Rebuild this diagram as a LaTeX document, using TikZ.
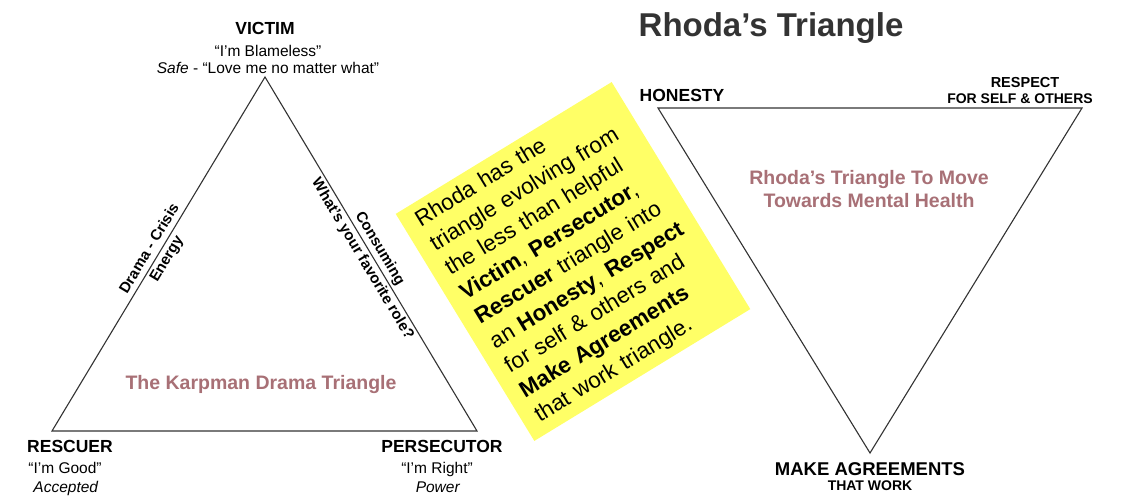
\documentclass[tikz,border=0pt]{standalone}
\usepackage{fontspec}
\setmainfont{Liberation Sans}
\definecolor{rosy}{RGB}{168,112,118}
\definecolor{notefill}{RGB}{255,255,102}
\definecolor{titlegray}{RGB}{51,51,51}
\begin{document}
\begin{tikzpicture}[x=1pt,y=-1pt,
    role/.style={font=\bfseries\fontsize{17.5}{20}\selectfont,anchor=base},
    quote/.style={font=\fontsize{15.5}{18}\selectfont,anchor=base},
    small/.style={font=\bfseries\fontsize{14}{16}\selectfont,anchor=base},
    side/.style={font=\bfseries\fontsize{15}{20}\selectfont,align=center,midway,sloped},
    caption/.style={font=\bfseries\fontsize{19.5}{23}\selectfont,text=rosy,align=center,anchor=base},
    edge/.style={draw=black!80,line width=1.1pt},
    note/.style={fill=notefill,rotate=31.4,minimum width=253pt,minimum height=266pt,
      inner xsep=14.5pt,text width=224pt,align=left,font=\fontsize{22.5}{28.6}\selectfont}]

    \path[use as bounding box,fill=white] (0,0) rectangle (1127,502);

    % Karpman triangle
    \coordinate (victim) at (265,77);
    \coordinate (rescuer) at (52,431);
    \coordinate (persecutor) at (477,431);
    \draw[edge] (rescuer) -- node[side] {Drama - Crisis\\Energy} (victim)
      -- node[side] {Consuming\\What’s your favorite role?} (persecutor) -- cycle;

    \node[role] (victimname) at (265,35) {VICTIM};
    \node[quote] (victimsays) at (268,57) {“I’m Blameless”};
    \node[quote] (victimfeels) at (268,74) {\textit{Safe} - “Love me no matter what”};

    \node[role] (rescuername) at (70,452) {RESCUER};
    \node[quote] (rescuersays) at (65,473) {“I’m Good”};
    \node[quote] (rescuerfeels) at (66,492) {\textit{Accepted}};

    \node[role] (persecutorname) at (442,452) {PERSECUTOR};
    \node[quote] (persecutorsays) at (437,473) {“I’m Right”};
    \node[quote] (persecutorfeels) at (438,492) {\textit{Power}};

    \node[caption] (karpman) at (261,390) {The Karpman Drama Triangle};

    % Rhoda's triangle
    \node[font=\bfseries\fontsize{33}{38}\selectfont,text=titlegray,anchor=base] (title) at (771,36.7) {Rhoda’s Triangle};

    \coordinate (honesty) at (658,108);
    \coordinate (respect) at (1082,108);
    \coordinate (agree) at (870,453);
    \draw[edge] (honesty) -- (respect) -- (agree) -- cycle;

    \node[role] (honestyname) at (682,101.7) {HONESTY};
    \node[small,font=\bfseries\fontsize{14.5}{16}\selectfont] (respectname) at (1025,87.3) {RESPECT};
    \node[small] (respectfor) at (1020,103.3) {FOR SELF \& OTHERS};
    \node[role,font=\bfseries\fontsize{18.5}{21}\selectfont] (agreename) at (870,475) {MAKE AGREEMENTS};
    \node[small] (agreework) at (870,490) {THAT WORK};

    \node[caption] (rhodacap) at (869,207.3) {Rhoda’s Triangle To Move\\Towards Mental Health};

    % sticky note
    \node[note] (memo) at (573,261.5) {Rhoda has the\\
      triangle evolving from\\
      the less than helpful\\
      \textbf{Victim}, \textbf{Persecutor},\\
      \textbf{Rescuer} triangle into\\
      an \textbf{Honesty}, \textbf{Respect}\\
      for self \& others and\\
      \textbf{Make Agreements}\\
      that work triangle.};

\end{tikzpicture}
\end{document}
